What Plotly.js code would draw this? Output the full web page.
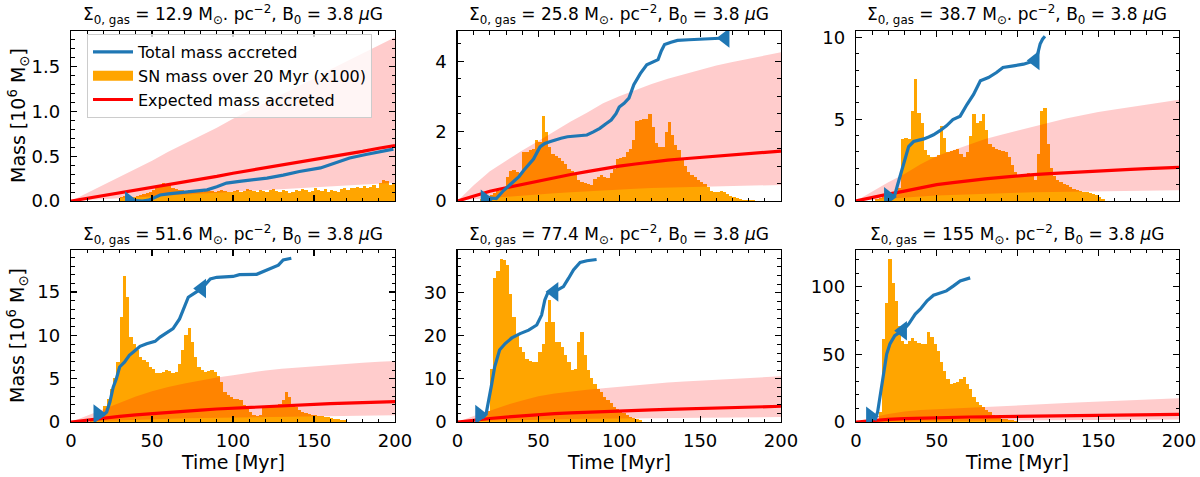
<!DOCTYPE html>
<html><head><meta charset="utf-8">
<script src="https://cdn.plot.ly/plotly-3.0.1.min.js"></script>
<style>html,body{margin:0;padding:0;background:#fff}#chart{width:1200px;height:477px}</style>
</head><body><div id="chart"></div>
<script>
// ---------- data ----------
const sigmaLabels = ['12.9','25.8','38.7','51.6','77.4','155'];
const b0Label = '3.8';
const timeGrid = [0,10,20,30,40,50,60,70,80,90,100,110,120,130,140,150,160,170,180,190,200];

// expected mass accreted (red) and its band
const expected1 = [0,0.03,0.06,0.09,0.12,0.15,0.18,0.21,0.245,0.275,0.31,0.34,0.37,0.4,0.43,0.465,0.495,0.525,0.555,0.59,0.62];
const upper1    = [0,0.09,0.18,0.27,0.36,0.45,0.55,0.64,0.73,0.82,0.92,1.01,1.1,1.19,1.28,1.37,1.47,1.56,1.65,1.74,1.83];
const lower1    = [0,0.01,0.02,0.03,0.04,0.05,0.06,0.07,0.08,0.09,0.1,0.11,0.12,0.13,0.14,0.155,0.165,0.175,0.185,0.195,0.205];
const expected2 = [0,0.15,0.28,0.38,0.48,0.57,0.66,0.76,0.84,0.93,1.0,1.06,1.12,1.17,1.21,1.25,1.29,1.33,1.36,1.4,1.43];
const upper2    = [0,0.45,0.85,1.15,1.45,1.72,2.0,2.28,2.53,2.8,3.0,3.18,3.35,3.5,3.63,3.76,3.88,3.98,4.08,4.17,4.26];
const lower2    = [0,0.05,0.09,0.13,0.16,0.19,0.22,0.25,0.28,0.31,0.33,0.35,0.37,0.39,0.4,0.41,0.42,0.43,0.44,0.45,0.46];
const expected3 = [0,0.22,0.42,0.6,0.82,1.0,1.12,1.25,1.35,1.45,1.54,1.61,1.67,1.73,1.79,1.84,1.89,1.94,1.98,2.02,2.06];
const upper3    = [0,0.6,1.15,1.65,2.25,2.75,3.1,3.45,3.8,4.05,4.3,4.55,4.8,5.05,5.25,5.45,5.6,5.75,5.9,6.05,6.2];
const lower3    = [0,0.07,0.14,0.2,0.27,0.33,0.37,0.41,0.45,0.48,0.51,0.53,0.55,0.57,0.59,0.61,0.62,0.63,0.64,0.65,0.66];
const expected4 = [0,0.24,0.45,0.64,0.82,0.98,1.12,1.26,1.38,1.5,1.6,1.7,1.79,1.88,1.96,2.04,2.11,2.18,2.24,2.3,2.35];
const upper4    = [0,0.75,1.45,2.25,2.95,3.55,4.05,4.45,4.8,5.15,5.4,5.7,5.95,6.15,6.3,6.45,6.6,6.72,6.84,6.95,7.04];
const lower4    = [0,0.08,0.15,0.21,0.27,0.33,0.37,0.42,0.46,0.5,0.53,0.57,0.6,0.63,0.65,0.68,0.7,0.72,0.74,0.76,0.78];
const expected5 = [0,0.45,0.82,1.15,1.45,1.75,1.95,2.13,2.3,2.43,2.55,2.68,2.8,2.92,3.05,3.17,3.28,3.38,3.48,3.57,3.65];
const upper5    = [0,1.4,2.6,3.9,5.0,5.95,6.6,7.1,7.5,7.85,8.2,8.55,8.9,9.15,9.4,9.6,9.8,10.0,10.2,10.4,10.6];
const lower5    = [0,0.15,0.27,0.38,0.48,0.58,0.65,0.71,0.77,0.81,0.85,0.89,0.93,0.97,1.0,1.04,1.07,1.1,1.12,1.14,1.16];
const expected6 = [0,1.2,2.0,2.55,2.95,3.25,3.5,3.7,3.85,4.0,4.15,4.3,4.45,4.6,4.75,4.9,5.05,5.2,5.35,5.5,5.65];
const upper6    = [0,3.6,6.0,7.7,8.8,9.5,10.1,10.6,11.1,11.6,12.3,13.0,13.5,14.0,14.5,15.0,15.5,16.0,16.6,17.1,17.6];
const lower6    = [0,0.4,0.67,0.85,0.98,1.08,1.17,1.23,1.28,1.33,1.38,1.43,1.48,1.53,1.58,1.63,1.68,1.73,1.78,1.83,1.88];

// SN mass over 20 Myr (x100), 2 Myr bins starting at snStartN
const binWidth = 2;
const snStart1 = 30;
const snMass1 = [0.04,0.06,0.05,0.04,0.05,0.06,0.07,0.08,0.09,0.10,
 0.12,0.14,0.17,0.20,0.19,0.18,0.15,0.13,0.12,0.12,
 0.11,0.12,0.11,0.12,0.11,0.10,0.11,0.12,0.11,0.10,
 0.11,0.12,0.11,0.10,0.10,0.11,0.12,0.10,0.11,0.13,
 0.12,0.11,0.10,0.12,0.11,0.10,0.12,0.13,0.11,0.10,
 0.12,0.11,0.09,0.10,0.12,0.11,0.13,0.12,0.10,0.11,
 0.14,0.12,0.11,0.13,0.10,0.12,0.11,0.10,0.13,0.14,
 0.12,0.15,0.14,0.16,0.15,0.17,0.14,0.16,0.18,0.15,
 0.20,0.24,0.22,0.18,0.20];
const snStart2 = 14;
const snMass2 = [0.05,0.08,0.12,0.18,0.22,0.28,0.32,0.4,0.7,0.86,
 0.88,0.83,0.8,1.4,1.41,1.45,1.5,1.75,1.7,2.44,
 1.98,1.55,1.36,1.3,1.22,1.15,1.07,0.93,0.85,0.74,
 0.6,0.55,0.52,0.5,0.47,0.64,0.7,0.74,0.7,0.67,
 0.8,0.93,1.19,1.22,1.27,1.41,1.5,1.75,2.3,2.32,
 2.34,2.36,2.5,2.13,1.65,1.55,1.55,1.99,2.27,1.89,
 1.6,1.46,1.22,1.0,0.83,0.75,0.69,0.6,0.55,0.48,
 0.4,0.3,0.26,0.27,0.29,0.25,0.21,0.15,0.12,0.08,
 0.05,0.04,0.03,0.02,0.02];
const snStart3 = 12;
const snMass3 = [0.1,0.2,0.25,0.3,0.35,0.4,0.5,0.8,3.8,3.85,
 3.8,5.5,7.45,5.4,4.8,3.1,2.8,2.7,2.7,2.8,
 4.57,3.85,3.0,3.05,3.1,3.2,2.9,2.7,3.0,3.95,
 5.3,4.8,4.9,5.3,4.36,3.5,3.3,3.2,3.1,3.05,
 3.0,2.7,2.2,1.8,1.6,1.5,1.6,1.7,1.5,1.3,
 2.9,5.5,5.7,3.5,2.0,1.5,1.3,1.17,1.05,0.97,
 0.85,0.75,0.66,0.62,0.58,0.55,0.5,0.45,0.35,0.25,
 0.1];
const snStart4 = 12;
const snMass4 = [0.2,0.4,0.6,1.0,1.8,2.7,3.85,5.1,6.9,12.1,
 16.9,14.4,9.8,9.0,8.3,7.5,7.2,6.9,6.4,6.15,
 5.6,5.7,5.8,6.0,5.85,5.6,5.8,6.7,8.3,10.0,
 10.8,9.2,7.5,6.3,6.0,5.8,5.9,6.0,5.8,5.3,
 4.6,3.5,3.1,2.9,2.7,2.6,2.5,2.0,1.55,1.1,
 0.8,0.75,0.8,1.6,1.65,1.7,1.8,1.9,2.1,2.5,
 3.5,2.9,2.1,1.7,1.35,1.2,1.0,0.9,0.85,0.77,
 0.7,0.65,0.6,0.55,0.45,0.4,0.3,0.25,0.2];
const snStart5 = 12;
const snMass5 = [0.5,1.0,1.5,2.5,12.4,33.3,35.0,37.7,37.5,36.4,
 29.8,24.4,20.2,17.4,16.3,14.7,14.2,13.95,13.95,16.3,
 18.2,23.3,28.3,23.3,18.6,18.6,17.4,15.5,14.0,12.0,
 12.4,18.6,20.9,15.5,12.0,10.1,8.9,7.75,7.0,5.8,
 5.0,4.3,3.5,3.1,2.3,2.0,1.55,1.2,0.93,0.6,
 0.4];
const snStart6 = 10;
const snMass6 = [1.0,2.0,7.4,61.3,88,120,103,89.5,71,60,
 57.6,60,61.8,60,58.5,57.6,57.6,66.2,62.5,57.6,
 52.7,44.1,38,31.9,28.2,28.5,29.4,31.9,33.1,28.2,
 24.5,18.4,14.7,12.5,11,8.5,7.4,4.9,4.0,2.9,
 2.3,2.0,1.5,1.2,0.8];

// total mass accreted (blue)
const accT1 = [36,40,44,48,52,55,60,65,71,78,84,90,96,104,112,121,131,141,154,162,172,182,190,195,199];
const accM1 = [0.01,0.005,0.0,0.01,0.04,0.067,0.08,0.09,0.105,0.115,0.125,0.16,0.2,0.22,0.235,0.255,0.29,0.33,0.37,0.42,0.48,0.52,0.55,0.565,0.58];
const accT2 = [17,20,24,28.5,32,35,38,41,44,47,51,54,57,60,64,68,74,80,84,88,92,95,98,100,103,106,109,113,117,121,124,126,128,132,136,143,150,158,165.5];
const accM2 = [0.1,0.08,0.07,0.3,0.45,0.55,0.7,0.88,1.05,1.2,1.55,1.65,1.7,1.75,1.8,1.84,1.86,1.89,1.98,2.08,2.22,2.32,2.5,2.69,2.8,2.95,3.33,3.65,3.9,3.98,4.05,4.3,4.48,4.55,4.6,4.62,4.64,4.66,4.67];
const accT3 = [20,22,24,26,28,29.5,31,32.6,35.7,39,42,45,48,52,56,60,64.5,68.7,72.8,77,82,87,91,97.5,103.7,108,111,112.5,114,115.5,117];
const accM3 = [0.25,0.3,0.35,1.07,1.8,2.3,2.9,3.33,3.64,3.72,3.8,3.92,4.05,4.3,4.6,4.98,5.19,5.9,6.52,7.35,7.55,7.86,8.17,8.27,8.37,8.5,8.6,9.0,9.6,9.9,10.08];
const accT4 = [16.5,18,20,22,24,26,28,30,33,36,38.5,42.6,46.7,51.9,55,59,63,67,70,72.4,76.5,80.7,86,90,100,104,114.6,119,125,128,131,136];
const accM4 = [0.92,0.58,0.8,1.15,2.3,4.0,5.0,6.35,6.9,7.7,8.08,8.73,9.04,9.3,9.8,10.3,10.77,11.9,13.3,14.4,14.9,15.4,16.5,16.7,16.8,17.0,17.04,17.4,17.8,18.1,18.7,18.9];
const accT5 = [13.6,16,17.7,19,21,23,26,29.5,33.6,38.7,44,49,52,54,56,59.7,65.5,68.6,71.7,75.8,80,86];
const accM5 = [1.7,1.16,1.9,4.3,8.5,12.8,16.7,18.2,19.5,20.5,21.3,22.5,24.8,28.3,30.1,30.2,31.4,33.3,35.3,37.0,37.4,37.7];
const accT6 = [8.9,12,13.4,15,17,19,21,24,27.4,28.9,32.6,36.7,39.8,44,48,52,56,60.4,64.5,70.7];
const accM6 = [4.2,2.45,7.4,19.6,34.3,50.2,57.6,63.7,66.5,67.4,72.3,79.7,83.3,89.5,93.6,95.1,96.8,100.5,104.2,106.4];

// triangle markers: start (pointing right) and later (pointing left)
const markStartT = [36,17,20,16.5,13.6,8.9];
const markStartM = [0.0,0.05,0.25,0.92,1.7,4.2];
const markLateT  = [null,165.5,111,80.7,59.7,28.9];
const markLateM  = [null,4.67,8.6,15.4,30.2,67.4];

// ---------- layout configuration ----------
const yMax   = [1.9,4.87,10.4,19.85,39.9,127];
const yMajor = [0.5,2,5,5,10,50];
const yMinor = [0.1,0.5,1,1,2,10];
const xDom = [[0.05917,0.32917],[0.38125,0.65083],[0.71333,0.9825]];
const yDom = [[0.5786,0.9350],[0.1153,0.4759]];

const panels = [
  {exp:expected1, lo:lower1, up:upper1, snStart:snStart1, sn:snMass1, t:accT1, m:accM1},
  {exp:expected2, lo:lower2, up:upper2, snStart:snStart2, sn:snMass2, t:accT2, m:accM2},
  {exp:expected3, lo:lower3, up:upper3, snStart:snStart3, sn:snMass3, t:accT3, m:accM3},
  {exp:expected4, lo:lower4, up:upper4, snStart:snStart4, sn:snMass4, t:accT4, m:accM4},
  {exp:expected5, lo:lower5, up:upper5, snStart:snStart5, sn:snMass5, t:accT5, m:accM5},
  {exp:expected6, lo:lower6, up:upper6, snStart:snStart6, sn:snMass6, t:accT6, m:accM6}
];

const FONT = 'DejaVu Sans, Liberation Sans, sans-serif';
const traces = [];
const layout = {
  width:1200, height:477,
  margin:{l:0,r:0,t:0,b:0},
  paper_bgcolor:'#fff', plot_bgcolor:'#fff',
  font:{family:FONT, color:'#000'},
  bargap:0, barmode:'overlay',
  showlegend:true,
  legend:{x:0.0725, y:1-34/477, xanchor:'left', yanchor:'top',
    font:{size:16, family:FONT, color:'#000'},
    bgcolor:'rgba(255,255,255,0.8)', bordercolor:'#cccccc', borderwidth:1,
    traceorder:'normal', itemwidth:40},
  annotations:[]
};

panels.forEach((p,k)=>{
  const sfx = k===0 ? '' : String(k+1);
  const xa = 'x'+sfx, ya = 'y'+sfx;
  const col = k%3, row = Math.floor(k/3);
  const centers = p.sn.map((_,i)=>p.snStart + binWidth*i + binWidth/2);

  traces.push({type:'bar', x:centers, y:p.sn, width:binWidth, xaxis:xa, yaxis:ya,
    marker:{color:'#ffa500', line:{width:0}}, name:'SN mass over 20 Myr (x100)',
    showlegend:false, hoverinfo:'skip'});

  const rev = timeGrid.slice().reverse();
  traces.push({type:'scatter', mode:'lines', xaxis:xa, yaxis:ya,
    x:timeGrid.concat(rev), y:p.up.concat(p.lo.slice().reverse()),
    fill:'toself', fillcolor:'rgba(255,0,0,0.2)', line:{width:0, color:'rgba(0,0,0,0)'},
    showlegend:false, hoverinfo:'skip'});

  traces.push({type:'scatter', mode:'lines', xaxis:xa, yaxis:ya, x:timeGrid, y:p.exp,
    line:{color:'#ff0000', width:3.2}, name:'Expected mass accreted',
    showlegend:k===0, legendrank:3});

  traces.push({type:'scatter', mode:'lines', xaxis:xa, yaxis:ya, x:p.t, y:p.m,
    line:{color:'#1f77b4', width:3.2}, name:'Total mass accreted',
    showlegend:k===0, legendrank:1});

  const mx = [markStartT[k]], my = [markStartM[k]], ms = ['triangle-right'];
  if (markLateT[k] !== null) { mx.push(markLateT[k]); my.push(markLateM[k]); ms.push('triangle-left'); }
  traces.push({type:'scatter', mode:'markers', xaxis:xa, yaxis:ya, x:mx, y:my,
    marker:{symbol:ms, size:17, color:'#1f77b4', line:{width:0}}, showlegend:false});

  const common = {ticks:'inside', ticklen:6, tickwidth:1.2, tickcolor:'#000',
    showline:true, linecolor:'#000', linewidth:1.2, mirror:'allticks',
    showgrid:false, zeroline:false, tickfont:{size:18, family:FONT, color:'#000'}};
  layout['xaxis'+sfx] = Object.assign({}, common, {domain:xDom[col], anchor:ya,
    range:[0,200], tick0:0, dtick:50, showticklabels:row===1, ticklabelstandoff:2,
    minor:{dtick:10, tick0:0, ticks:'inside', ticklen:3.5, tickwidth:1, tickcolor:'#000'}});
  layout['yaxis'+sfx] = Object.assign({}, common, {domain:yDom[row], anchor:xa,
    range:[0,yMax[k]], tick0:0, dtick:yMajor[k], tickformat: k===0 ? '.1f' : '',
    ticklabelstandoff:6,
    minor:{dtick:yMinor[k], tick0:0, ticks:'inside', ticklen:3.5, tickwidth:1, tickcolor:'#000'}});

  const cx = (xDom[col][0]+xDom[col][1])/2;
  layout.annotations.push({xref:'paper', yref:'paper', x:cx, y: row===0 ? 1-15/477 : 1-234/477,
    xanchor:'center', yanchor:'middle', showarrow:false,
    text:'Σ<sub>0, gas</sub> = '+sigmaLabels[k]+' M<sub>⊙</sub>. pc<sup>−2</sup>, B<sub>0</sub> = '+b0Label+' <i>μ</i>G',
    font:{size:17, family:FONT, color:'#000'}});
  if (row===1) {
    layout.annotations.push({xref:'paper', yref:'paper', x:cx, y:1-462/477,
      xanchor:'center', yanchor:'middle', showarrow:false, text:'Time [Myr]',
      font:{size:19, family:FONT, color:'#000'}});
  }
  if (col===0) {
    const yc = (yDom[row][0]+yDom[row][1])/2;
    layout.annotations.push({xref:'paper', yref:'paper', x:18/1200, y:yc,
      xanchor:'center', yanchor:'middle', showarrow:false, textangle:-90,
      text:'Mass [10<sup>6</sup> M<sub>⊙</sub>]',
      font:{size:19, family:FONT, color:'#000'}});
  }
});

// legend-only entry drawing the SN bars key as a wide orange block
traces.push({type:'scatter', mode:'lines', x:[null], y:[null], xaxis:'x', yaxis:'y',
  line:{color:'#ffa500', width:12}, name:'SN mass over 20 Myr (x100)', legendrank:2, showlegend:true});

Plotly.newPlot('chart', traces, layout, {staticPlot:true, displayModeBar:false});
</script>
</body></html>
